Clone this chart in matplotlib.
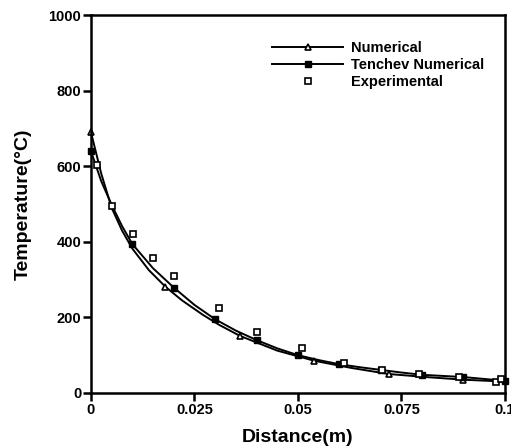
import numpy as np
from matplotlib import pyplot as plt

plt.rcParams['font.family'] = ['Liberation Sans', 'DejaVu Sans']
plt.rcParams['font.weight'] = 'bold'

num_line_x = [0, 0.0025, 0.005, 0.0075, 0.01, 0.014, 0.018, 0.022, 0.027, 0.031, 0.036,
              0.045, 0.054, 0.063, 0.072, 0.081, 0.09, 0.1]
num_line_y = [690, 580, 490, 430, 382, 325, 281, 245, 207, 180, 151,
              112, 85, 66, 50, 42, 35, 30]
num_x = [0, 0.018, 0.036, 0.054, 0.072, 0.09]
num_y = [690, 281, 151, 85, 50, 35]

# Tenchev numerical: curve + filled squares
ten_line_x = [0, 0.0025, 0.005, 0.0075, 0.01, 0.015, 0.02, 0.025, 0.03, 0.035, 0.04,
              0.045, 0.05, 0.055, 0.06, 0.065, 0.07, 0.075, 0.08, 0.085, 0.09, 0.095, 0.1]
ten_line_y = [640, 560, 498, 442, 394, 330, 279, 233, 195, 165, 140,
              118, 100, 87, 76, 68, 61, 54, 48, 45, 42, 37, 32]
ten_x = [0, 0.01, 0.02, 0.03, 0.04, 0.05, 0.06, 0.07, 0.08, 0.09, 0.1]
ten_y = [640, 394, 279, 195, 140, 100, 76, 61, 48, 43, 32]

# Experimental
exp_x = [0.0014, 0.0052, 0.0102, 0.015, 0.020, 0.031, 0.040, 0.0511, 0.0612, 0.0702,
         0.0793, 0.089, 0.0978, 0.099]
exp_y = [603, 495, 422, 358, 309, 226, 162, 118, 80, 61, 49, 43, 28, 36]

xticks = [0, 0.025, 0.05, 0.075, 0.1]
xticklabels = ['0', '0.025', '0.05', '0.075', '0.1']
yticks = [0, 200, 400, 600, 800, 1000]

fig = plt.figure(figsize=(5.11, 4.46), dpi=100)
ax = fig.add_axes([0.178, 0.119, 0.81, 0.847])

l1, = ax.plot(num_line_x, num_line_y, color='black', lw=1.4)
m1, = ax.plot(num_x, num_y, ls='none', marker='^', ms=5, mfc='white', mec='black', mew=1.2)
l2, = ax.plot(ten_line_x, ten_line_y, color='black', lw=1.4)
m2, = ax.plot(ten_x, ten_y, ls='none', marker='s', ms=4, mfc='black', mec='black')
m3, = ax.plot(exp_x, exp_y, ls='none', marker='s', ms=5, mfc='white', mec='black', mew=1.2)
for m in (m1, m2, m3):
    m.set_clip_on(False)

ax.set_xlim(0, 0.1)
ax.set_ylim(0, 1000)
ax.set_xticks(xticks)
ax.set_xticklabels(xticklabels)
ax.set_yticks(yticks)
ax.tick_params(direction='out', length=6, width=1.8, labelsize=10.5, pad=1)
for s in ax.spines.values():
    s.set_linewidth(1.8)

ax.set_xlabel('Distance(m)', fontsize=14, fontweight='bold', labelpad=9)
ax.set_ylabel('Temperature(\u00b0C)', fontsize=14, fontweight='bold', labelpad=12)

ax.legend([(l1, m1), (l2, m2), m3], ['Numerical', 'Tenchev Numerical', 'Experimental'],
          loc='upper left', bbox_to_anchor=(0.437, 0.932), frameon=False, fontsize=10.5,
          handlelength=4.9, handletextpad=0.5, labelspacing=0.2, borderpad=0,
          borderaxespad=0, numpoints=1)

fig.savefig('out.png', dpi=100)
